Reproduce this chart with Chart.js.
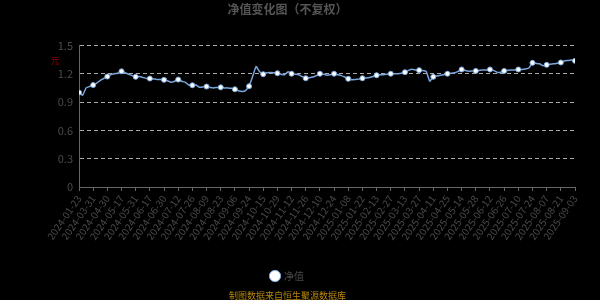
<!DOCTYPE html>
<html>
<head>
<meta charset="utf-8">
<script src="https://cdn.jsdelivr.net/npm/chart.js@4.4.1/dist/chart.umd.min.js"></script>
<style>
  html, body { margin: 0; padding: 0; background: #000; }
  #wrap { width: 600px; height: 300px; }
</style>
</head>
<body>
<div id="wrap"><canvas id="nav"></canvas></div>
<script>
// x axis labels, one every 4 data points
const tickLabels = [
  "2024-01-23", "2024-03-31", "2024-04-30", "2024-05-17", "2024-05-31", "2024-06-17",
  "2024-06-30", "2024-07-12", "2024-07-26", "2024-08-09", "2024-08-23", "2024-09-06",
  "2024-09-24", "2024-10-15", "2024-10-29", "2024-11-12", "2024-11-26", "2024-12-10",
  "2024-12-24", "2025-01-08", "2025-01-22", "2025-02-13", "2025-02-27", "2025-03-13",
  "2025-03-27", "2025-04-11", "2025-04-25", "2025-05-14", "2025-05-28", "2025-06-12",
  "2025-06-26", "2025-07-10", "2025-07-24", "2025-08-07", "2025-08-21", "2025-09-03"
];
const pointsPerTick = 4;

// net value
const navValues = [
  1.000, 0.970, 1.050, 1.065,
  1.080, 1.100, 1.130, 1.150,
  1.170, 1.190, 1.200, 1.205,
  1.225, 1.210, 1.195, 1.180,
  1.167, 1.170, 1.160, 1.150,
  1.149, 1.145, 1.140, 1.140,
  1.135, 1.125, 1.110, 1.120,
  1.138, 1.120, 1.110, 1.080,
  1.078, 1.080, 1.056, 1.060,
  1.064, 1.055, 1.050, 1.055,
  1.056, 1.050, 1.050, 1.045,
  1.035, 1.020, 1.012, 1.020,
  1.067, 1.170, 1.277, 1.220,
  1.195, 1.210, 1.214, 1.210,
  1.205, 1.195, 1.190, 1.220,
  1.200, 1.195, 1.190, 1.170,
  1.152, 1.158, 1.165, 1.180,
  1.200, 1.195, 1.185, 1.190,
  1.200, 1.190, 1.180, 1.165,
  1.146, 1.135, 1.140, 1.145,
  1.152, 1.155, 1.160, 1.170,
  1.184, 1.190, 1.190, 1.195,
  1.200, 1.200, 1.200, 1.205,
  1.216, 1.235, 1.248, 1.240,
  1.237, 1.235, 1.225, 1.120,
  1.167, 1.175, 1.184, 1.190,
  1.200, 1.205, 1.210, 1.225,
  1.245, 1.235, 1.227, 1.230,
  1.230, 1.235, 1.240, 1.240,
  1.245, 1.235, 1.215, 1.215,
  1.230, 1.235, 1.240, 1.240,
  1.245, 1.245, 1.250, 1.260,
  1.315, 1.310, 1.305, 1.284,
  1.294, 1.300, 1.305, 1.310,
  1.319, 1.335, 1.340, 1.345,
  1.337
];

const cjk = "'Noto Sans CJK SC', 'Noto Sans', sans-serif";
const lineColor = "#7aa6dc";
const textColor = "#4a4a4a";

// small y axis unit name, drawn above the axis
const unitLabel = {
  id: "unitLabel",
  afterDraw(chart) {
    const ctx = chart.ctx;
    ctx.save();
    ctx.fillStyle = "#8b0000";
    ctx.font = "9px " + cjk;
    ctx.textAlign = "center";
    ctx.textBaseline = "middle";
    ctx.fillText("元", 55, 61);
    ctx.restore();
  }
};

new Chart(document.getElementById("nav"), {
  type: "line",
  data: {
    datasets: [{
      label: "净值",
      data: navValues.map((v, i) => ({ x: i, y: v })),
      borderColor: lineColor,
      backgroundColor: "#ffffff",
      borderWidth: 1.5,
      tension: 0.1,
      pointRadius: (c) => (c.dataIndex % pointsPerTick === 0 ? 2.5 : 0),
      pointBorderColor: lineColor,
      pointBorderWidth: 1,
      pointBackgroundColor: "#ffffff"
    }]
  },
  options: {
    responsive: true,
    maintainAspectRatio: false,
    animation: false,
    layout: { padding: { left: 0, right: 25, top: 0, bottom: 0 } },
    scales: {
      x: {
        type: "linear",
        min: 0,
        max: (tickLabels.length - 1) * pointsPerTick,
        afterFit: (s) => { s.height = 76; },
        afterBuildTicks: (s) => {
          s.ticks = tickLabels.map((_, i) => ({ value: i * pointsPerTick }));
        },
        ticks: {
          autoSkip: false,
          maxRotation: 55,
          minRotation: 55,
          color: textColor,
          font: { size: 10, family: cjk },
          padding: 2,
          callback: (v) => tickLabels[Math.round(v / pointsPerTick)]
        },
        grid: { drawOnChartArea: false, drawTicks: true, tickLength: 4, color: "#666" },
        border: { display: true, color: "#666" }
      },
      y: {
        min: 0,
        max: 1.5,
        afterFit: (s) => { s.width = 79; },
        ticks: {
          stepSize: 0.3,
          color: textColor,
          font: { size: 11, family: cjk },
          padding: 6,
          callback: (v) => +v.toFixed(1)
        },
        grid: { color: "#aaa", drawTicks: false, lineWidth: 1 },
        border: { display: true, color: "#666", dash: [4, 3] }
      }
    },
    plugins: {
      title: {
        display: true,
        text: "净值变化图（不复权）",
        color: "#555",
        font: { size: 12, weight: "bold", family: cjk },
        padding: { top: 2, bottom: 29 }
      },
      subtitle: {
        display: true,
        position: "bottom",
        text: "制图数据来自恒生聚源数据库",
        color: "#b8860b",
        font: { size: 9, family: cjk, lineHeight: 1 },
        padding: { top: 0, bottom: 0 }
      },
      legend: {
        position: "bottom",
        labels: {
          color: textColor,
          font: { size: 10, family: cjk },
          usePointStyle: true,
          pointStyle: "circle",
          boxWidth: 8,
          boxHeight: 8,
          padding: 8
        }
      },
      tooltip: { enabled: false }
    }
  },
  plugins: [unitLabel]
});
</script>
</body>
</html>
